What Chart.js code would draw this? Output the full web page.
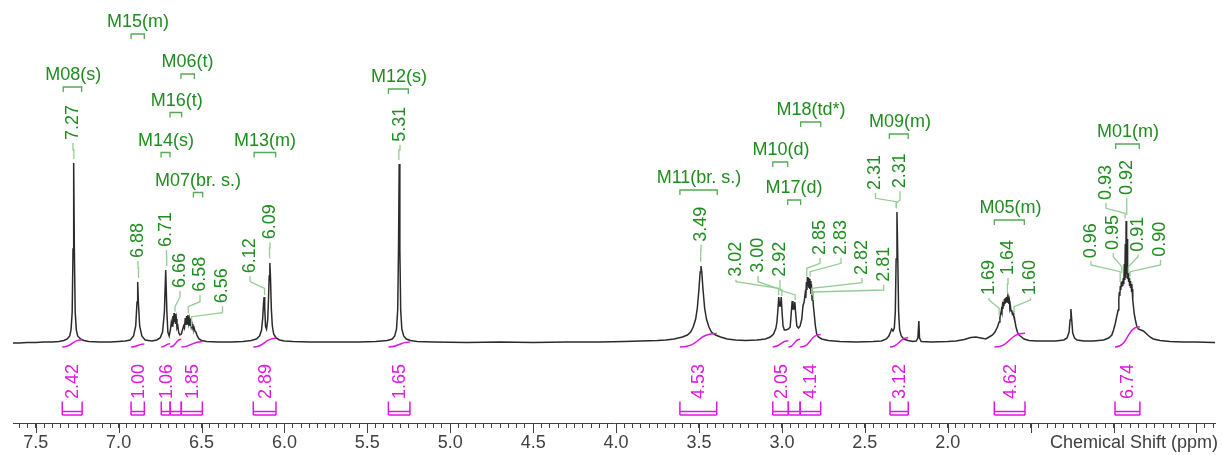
<!DOCTYPE html>
<html>
<head>
<meta charset="utf-8">
<script src="https://cdn.jsdelivr.net/npm/chart.js@4.4.1/dist/chart.umd.min.js"></script>
<style>
  html, body { margin: 0; padding: 0; background: #fff; }
  #wrap { width: 1223px; height: 455px; }
</style>
</head>
<body>
<div id="wrap"><canvas id="nmr" width="1223" height="455"></canvas></div>
<script>
/* =====================
   DATA
===================== */
// spectrum trace: [chemical shift (ppm), intensity]
const spectrum = [
  [7.637,1],[7.60,1],[7.55,1.5],[7.50,1.5],[7.45,2],[7.40,2],[7.36,2.5],[7.33,3.5],[7.31,5],[7.295,8],
  [7.287,14],[7.280,32],[7.275,95],[7.271,181],[7.267,95],[7.262,32],[7.255,14],[7.247,8],[7.23,5],[7.21,3.5],
  [7.18,2.5],[7.12,2],[7.05,2],[7.00,2.5],[6.96,3],[6.93,4],[6.91,8],[6.897,18],[6.889,42],[6.885,62],
  [6.881,42],[6.873,18],[6.86,8],[6.84,4],[6.80,3],[6.77,4],[6.75,6],[6.735,12],[6.724,32],[6.716,74],
  [6.709,32],[6.703,12],[6.695,8],[6.688,14],[6.682,22],[6.677,18],[6.673,28],[6.670,20],[6.666,31],[6.663,22],
  [6.660,30],[6.656,20],[6.652,25],[6.648,16],[6.643,18],[6.637,11],[6.630,9],[6.622,10],[6.615,14],[6.608,18],
  [6.603,16],[6.598,26],[6.594,19],[6.590,28],[6.586,20],[6.582,29],[6.578,21],[6.574,25],[6.570,18],[6.566,22],
  [6.562,17],[6.557,20],[6.552,16],[6.546,17],[6.540,13],[6.534,12],[6.526,8],[6.515,5],[6.50,3.5],[6.47,2.5],
  [6.40,2],[6.32,2],[6.25,2.5],[6.20,3.5],[6.17,5],[6.150,8],[6.138,14],[6.131,26],[6.127,38],[6.123,47],
  [6.119,36],[6.114,18],[6.108,15],[6.101,24],[6.096,45],[6.092,68],[6.088,81],[6.084,66],[6.079,35],[6.073,18],
  [6.065,10],[6.05,6],[6.03,4],[6.00,3],[5.95,2.5],[5.85,2],[5.70,2],[5.55,2],[5.45,2.5],[5.38,3.5],
  [5.35,5],[5.335,8],[5.324,15],[5.317,34],[5.312,95],[5.308,180],[5.304,95],[5.299,34],[5.292,15],[5.281,8],
  [5.265,5],[5.24,3.5],[5.20,2.5],[5.10,2],[4.90,1.5],[4.70,2],[4.50,1.5],[4.30,2],[4.10,2],[3.95,2.5],
  [3.85,3],[3.75,3.5],[3.70,4],[3.65,5],[3.60,7],[3.57,9],[3.55,12],[3.535,17],[3.52,25],[3.51,36],
  [3.50,55],[3.493,72],[3.488,78],[3.483,72],[3.476,55],[3.466,36],[3.455,25],[3.44,17],[3.425,12],[3.40,9],
  [3.37,7],[3.33,5],[3.28,4],[3.22,3.5],[3.15,4],[3.10,5],[3.07,7],[3.05,10],[3.036,16],[3.030,22],
  [3.024,34],[3.019,47],[3.014,38],[3.009,38],[3.004,47],[2.999,32],[2.993,18],[2.985,14],[2.975,14],[2.960,15],
  [2.950,17],[2.944,30],[2.938,43],[2.933,35],[2.927,35],[2.922,42],[2.916,29],[2.910,18],[2.900,16],[2.890,18],
  [2.880,25],[2.873,38],[2.866,42],[2.860,50],[2.856,46],[2.852,62],[2.849,54],[2.846,67],[2.843,58],[2.840,66],
  [2.837,56],[2.834,65],[2.831,55],[2.828,63],[2.825,50],[2.822,60],[2.818,44],[2.814,48],[2.810,38],[2.805,30],
  [2.798,18],[2.790,10],[2.78,7],[2.76,5],[2.72,3.5],[2.65,2.5],[2.55,2],[2.45,2.5],[2.40,3],[2.37,5],
  [2.355,8],[2.345,12],[2.338,15],[2.330,13],[2.322,16],[2.316,32],[2.311,85],[2.306,132],[2.301,85],[2.296,32],
  [2.290,14],[2.280,8],[2.265,5],[2.24,3.5],[2.21,2.5],[2.19,3],[2.180,6],[2.174,23],[2.170,6],[2.16,2.5],
  [2.10,2],[2.00,2.5],[1.95,3],[1.90,4.5],[1.86,6.5],[1.83,7],[1.80,6],[1.77,5],[1.75,7],[1.73,9],
  [1.715,12],[1.70,17],[1.69,22],[1.685,27],[1.680,30],[1.676,34],[1.673,32],[1.670,38],[1.667,35],[1.664,42],
  [1.661,38],[1.658,45],[1.655,40],[1.652,46],[1.649,41],[1.646,47],[1.643,42],[1.640,46],[1.637,41],[1.634,45],
  [1.631,40],[1.628,43],[1.625,36],[1.622,38],[1.618,33],[1.614,34],[1.610,30],[1.606,31],[1.602,28],[1.598,27],
  [1.594,22],[1.588,17],[1.580,12],[1.57,9],[1.555,7],[1.54,5],[1.51,3.5],[1.46,3],[1.40,3],[1.35,3],
  [1.30,4],[1.28,6],[1.268,12],[1.262,24],[1.257,35],[1.252,24],[1.246,11],[1.235,6],[1.22,4],[1.18,3],
  [1.12,3],[1.06,4],[1.03,6],[1.01,9],[1.00,14],[0.99,20],[0.98,28],[0.972,34],[0.968,45],[0.965,52],
  [0.962,48],[0.959,58],[0.956,54],[0.953,62],[0.950,57],[0.947,63],[0.944,58],[0.941,66],[0.938,60],[0.935,80],
  [0.932,64],[0.929,100],[0.926,66],[0.924,123],[0.921,70],[0.918,105],[0.915,65],[0.912,72],[0.909,62],[0.906,66],
  [0.903,58],[0.900,63],[0.897,56],[0.894,60],[0.891,52],[0.888,55],[0.884,44],[0.880,38],[0.875,30],[0.868,24],
  [0.860,18],[0.850,15],[0.835,14],[0.82,13],[0.80,10],[0.78,7],[0.76,5],[0.72,3.5],[0.66,2.5],[0.58,2],
  [0.50,2],[0.40,1.5],[0.388,1.5]
];

// picked peaks (ppm)
const peakShifts = [7.27, 6.88, 6.71, 6.66, 6.58, 6.56, 6.12, 6.09, 5.31, 3.49, 3.02, 3.00, 2.92, 2.85,
  2.83, 2.82, 2.81, 2.31, 2.31, 1.69, 1.64, 1.60, 0.96, 0.95, 0.93, 0.92, 0.91, 0.90];

// multiplets
const multipletNames = ['M08(s)', 'M15(m)', 'M06(t)', 'M16(t)', 'M14(s)', 'M13(m)', 'M07(br. s.)', 'M12(s)',
  'M11(br. s.)', 'M10(d)', 'M17(d)', 'M18(td*)', 'M09(m)', 'M05(m)', 'M01(m)'];
const multipletFrom = [7.334, 6.925, 6.624, 6.690, 6.744, 6.183, 6.549, 5.373, 3.615, 3.055, 2.965, 2.887, 2.352, 1.719, 0.987];
const multipletTo   = [7.223, 6.845, 6.543, 6.620, 6.690, 6.053, 6.493, 5.253, 3.390, 2.965, 2.887, 2.766, 2.238, 1.538, 0.845];

// integrals (null = value not printed)
const integralFrom   = [7.340, 6.925, 6.743, 6.689, 6.622, 6.188, 5.373, 3.615, 3.055, 2.961, 2.890, 2.348, 1.719, 0.991];
const integralTo     = [7.220, 6.845, 6.689, 6.622, 6.495, 6.051, 5.243, 3.393, 2.961, 2.890, 2.766, 2.238, 1.534, 0.841];
const integralValues = [2.42, 1.00, 1.06, null, 1.85, 2.89, 1.65, 4.53, 2.05, null, 4.14, 3.12, 4.62, 6.74];

const tickLabels = ['7.5', '7.0', '6.5', '6.0', '5.5', '5.0', '4.5', '4.0', '3.5', '3.0', '2.5', '2.0'];
const axisTitle = 'Chemical Shift (ppm)';

/* =====================
   LAYOUT (pixels)
===================== */
// peak label: [label x, text bottom, knee y, elbow y, leader end y]
const peakLabelLayout = [
  [73, 140, 150, 150, 159], [138, 258, 268, 268, 278], [166.5, 247, 256, 256, 266],
  [180, 288, 296.7, 306.7, 311.7], [200, 291.7, 301.7, 306.7, 313.3], [222.5, 303.3, 312.7, 316.7, 326.7],
  [250, 273.3, 281.7, 288.3, 295], [270, 239.3, 248, 248, 258.3], [400, 141.7, 150, 150, 160],
  [701, 241.7, 250, 250, 261.7], [736, 276.7, 281.7, 288.3, 295], [758, 272.7, 281.7, 290, 296],
  [780, 276.7, 290, 295, 300], [820, 255, 263.3, 268.3, 276.7], [841, 255, 263.3, 271.7, 276.7],
  [862, 275, 282.7, 288.3, 295], [883.7, 281.7, 290, 292, 300], [875.5, 190, 198.3, 201.7, 208.3],
  [900, 188.3, 200, 203.3, 208.3], [989, 295, 300, 308.3, 315], [1008, 275, 284, 284, 293.3],
  [1030.5, 295, 300, 306.7, 313.3], [1091, 258.3, 265, 271.7, 282], [1113.3, 250, 256.7, 266.7, 273.3],
  [1106, 200, 208.3, 213.3, 218.3], [1126.7, 195, 205, 205, 215], [1138, 251.7, 256.7, 266.7, 273.3],
  [1160.5, 256.7, 265, 271.7, 276.7]
];
// multiplet label: [text centre x, text baseline y]
const multipletLabelLayout = [
  [73.3, 80], [138, 27], [187.5, 67], [176.7, 105.5], [166, 145.5], [265, 145.5], [198, 185.5], [399, 82],
  [699, 183], [781, 155], [794, 193], [811, 115], [900, 127], [1010.5, 213], [1128, 137]
];

const FONT = '18px "Liberation Sans", Arial, sans-serif';
const GREEN = '#1f8c1f';
const GREEN_LIGHT = '#93cd93';
const GREEN_BRACKET = '#55a955';
const MAGENTA = '#e018e0';
const AXIS = '#404040';

/* =====================
   ANNOTATIONS PLUGIN
===================== */
const drawVertical = (ctx, text, x, yBottom) => {
  ctx.save();
  ctx.translate(x, yBottom);
  ctx.rotate(-Math.PI / 2);
  ctx.textAlign = 'left';
  ctx.textBaseline = 'middle';
  ctx.fillText(text, 0, 0);
  ctx.restore();
};

const annotations = {
  id: 'annotations',
  afterDatasetsDraw(chart) {
    const { ctx } = chart;
    const xs = chart.scales.x;
    const ys = chart.scales.y;
    const px = (v) => xs.getPixelForValue(v);
    const py = (v) => ys.getPixelForValue(v);

    ctx.save();
    ctx.font = FONT;

    // integral curves
    ctx.strokeStyle = MAGENTA;
    ctx.lineWidth = 1.5;
    integralFrom.forEach((from, i) => {
      const x0 = px(from);
      const x1 = px(integralTo[i]);
      const rise = (integralValues[i] ?? 2.6) * 3;
      const y0 = py(-3);
      const y1 = py(-3 + rise);
      const w = x1 - x0;
      ctx.beginPath();
      ctx.moveTo(x0, y0);
      ctx.bezierCurveTo(x0 + w * 0.55, y0, x1 - w * 0.55, y1, x1, y1);
      ctx.stroke();
    });

    // integral brackets + values
    ctx.fillStyle = MAGENTA;
    integralFrom.forEach((from, i) => {
      const x0 = px(from);
      const x1 = px(integralTo[i]);
      ctx.beginPath();
      ctx.moveTo(x0, 401.5); ctx.lineTo(x0, 415);
      ctx.moveTo(x1, 401.5); ctx.lineTo(x1, 415);
      ctx.moveTo(x0, 411.5); ctx.lineTo(x1, 411.5);
      ctx.moveTo(x0, 415); ctx.lineTo(x1, 415);
      ctx.stroke();
      if (integralValues[i] !== null) {
        drawVertical(ctx, integralValues[i].toFixed(2), (x0 + x1) / 2 + 1, 399);
      }
    });

    // peak labels + leaders
    ctx.strokeStyle = GREEN_LIGHT;
    ctx.lineWidth = 1.3;
    ctx.fillStyle = GREEN;
    peakShifts.forEach((ppm, i) => {
      const [lx, bottom, knee, elbow, end] = peakLabelLayout[i];
      const x = px(ppm);
      ctx.beginPath();
      ctx.moveTo(lx, bottom + 3);
      ctx.lineTo(lx, knee);
      ctx.lineTo(x, elbow);
      ctx.lineTo(x, end);
      ctx.stroke();
      drawVertical(ctx, ppm.toFixed(2), lx, bottom);
    });

    // multiplet labels + brackets
    ctx.textAlign = 'center';
    ctx.textBaseline = 'alphabetic';
    multipletNames.forEach((name, i) => {
      const [cx, base] = multipletLabelLayout[i];
      const x0 = px(multipletFrom[i]);
      const x1 = px(multipletTo[i]);
      const by = base + 7;
      ctx.fillStyle = GREEN;
      ctx.fillText(name, cx, base);
      ctx.strokeStyle = GREEN_BRACKET;
      ctx.beginPath();
      ctx.moveTo(x0, by + 5); ctx.lineTo(x0, by);
      ctx.lineTo(x1, by); ctx.lineTo(x1, by + 5);
      ctx.stroke();
    });

    ctx.restore();
  },
  afterDraw(chart) {
    const { ctx } = chart;
    const xs = chart.scales.x;
    ctx.save();
    // longer ticks at labelled positions
    ctx.strokeStyle = AXIS;
    ctx.lineWidth = 1;
    xs.ticks.forEach((t) => {
      if (Math.abs(t.value * 2 - Math.round(t.value * 2)) < 1e-6) {
        const x = Math.round(xs.getPixelForValue(t.value)) + 0.5;
        ctx.beginPath();
        ctx.moveTo(x, xs.top);
        ctx.lineTo(x, xs.top + 10);
        ctx.stroke();
      }
    });
    // axis title, on the tick label row
    ctx.font = FONT;
    ctx.fillStyle = AXIS;
    ctx.textAlign = 'right';
    ctx.textBaseline = 'top';
    ctx.fillText(axisTitle, 1218, xs.top + 11);
    ctx.restore();
  }
};

/* =====================
   CHART
===================== */
new Chart(document.getElementById('nmr'), {
  type: 'line',
  data: {
    datasets: [{
      data: spectrum.map(([x, y]) => ({ x, y })),
      borderColor: '#2b2b2b',
      borderWidth: 1.5,
      pointRadius: 0,
      tension: 0,
      fill: false,
    }],
  },
  options: {
    responsive: false,
    animation: false,
    devicePixelRatio: 1,
    layout: { padding: { left: 13, right: 8, top: 0, bottom: 0 } },
    plugins: { legend: { display: false }, tooltip: { enabled: false } },
    scales: {
      x: {
        type: 'linear',
        reverse: true,
        min: 0.388,
        max: 7.637,
        afterFit: (scale) => { scale.height = 32; },
        border: { display: true, color: AXIS, width: 1 },
        grid: { drawOnChartArea: false, drawTicks: true, tickLength: 5, color: AXIS, lineWidth: 1 },
        ticks: {
          stepSize: 0.05,
          includeBounds: false,
          autoSkip: false,
          maxRotation: 0,
          padding: 4,
          color: AXIS,
          font: { family: '"Liberation Sans", Arial, sans-serif', size: 18 },
          callback: (value) => {
            const label = Number(value).toFixed(1);
            const isHalf = Math.abs(value * 2 - Math.round(value * 2)) < 1e-6;
            return isHalf && tickLabels.includes(label) ? label : '';
          },
        },
      },
      y: { display: false, min: -79, max: 344 },
    },
  },
  plugins: [annotations],
});
</script>
</body>
</html>
